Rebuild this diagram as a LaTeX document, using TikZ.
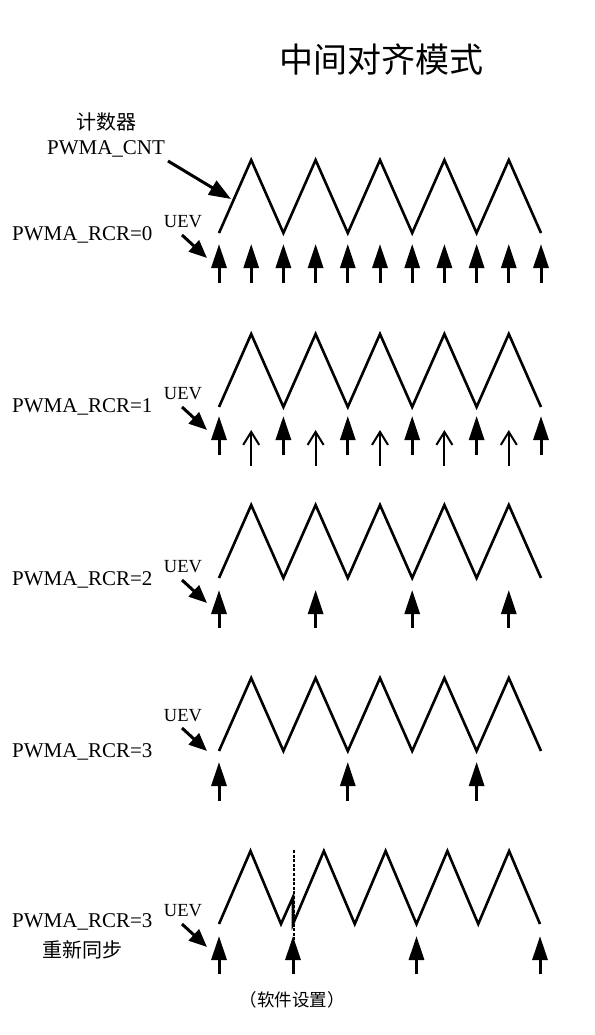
\documentclass[tikz,border=0pt]{standalone}
\usepackage{fontspec}
\setmainfont{Liberation Serif}
\newfontfamily\cjk{Noto Sans CJK SC}
\usetikzlibrary{arrows.meta,calc}
\begin{document}
\begin{tikzpicture}[x=1pt,y=-1pt,
  wave/.style={line width=2.6pt, line join=miter, line cap=butt},
  evt/.style={line width=3pt, -{Triangle[length=24pt,width=15pt]}},
  evtopen/.style={line width=2pt, -{Straight Barb[length=13pt,width=16pt,line width=2pt]}},
  point/.style={line width=3pt, -{Triangle[length=18pt,width=15pt]}},
  lbl/.style={inner sep=0pt, anchor=west, font=\fontsize{21}{21}\selectfont},
  uevlbl/.style={inner sep=0pt, font=\fontsize{18.5}{18.5}\selectfont},
  cjklbl/.style={inner sep=0pt, font=\cjk\fontsize{20}{20}\selectfont},
  dashseg/.style={fill=black}
]
\useasboundingbox (0,0) rectangle (594,1035);
\fill[white] (0,0) rectangle (594,1035);

% title
\node[inner sep=0pt, font=\cjk\fontsize{34}{34}\selectfont] (title) at (381,60) {中间对齐模式};

% ---------- row 1 : RCR=0 ----------
\node[cjklbl] (cntcn) at (106,122) {计数器};
\node[uevlbl, font=\fontsize{21}{21}\selectfont] (cnt) at (106,149) {PWMA\_CNT};
\coordinate (cntA) at (168,161);
\coordinate (cntB) at (231,199);
\draw[point, -{Triangle[length=22pt,width=16pt]}] (cntA) -- (cntB);
\node[lbl] (rcr0) at (12,235) {PWMA\_RCR=0};
\node[uevlbl] (uev0) at (183,222) {UEV};
\coordinate (u0a) at (182,235);
\coordinate (u0b) at (207,258);
\draw[point] (u0a) -- (u0b);
\draw[wave] (219,233) \foreach \k in {1,...,10}{ -- ({219+32.2*\k},{233-73*mod(\k,2)}) };
\foreach \k in {0,...,10}{
  \draw[evt] ({219+32.2*\k},283) -- ({219+32.2*\k},244);
}

% ---------- row 2 : RCR=1 ----------
\node[lbl] (rcr1) at (12,407) {PWMA\_RCR=1};
\node[uevlbl] (uev1) at (183,394) {UEV};
\coordinate (u1a) at (182,407);
\coordinate (u1b) at (207,430);
\draw[point] (u1a) -- (u1b);
\draw[wave] (219,407) \foreach \k in {1,...,10}{ -- ({219+32.2*\k},{407-73*mod(\k,2)}) };
\foreach \k in {0,2,...,10}{
  \draw[evt] ({219+32.2*\k},455) -- ({219+32.2*\k},416);
}
\foreach \k in {1,3,...,9}{
  \draw[evtopen] ({219+32.2*\k},466) -- ({219+32.2*\k},430);
}

% ---------- row 3 : RCR=2 ----------
\node[lbl] (rcr2) at (12,580) {PWMA\_RCR=2};
\node[uevlbl] (uev2) at (183,567) {UEV};
\coordinate (u2a) at (182,580);
\coordinate (u2b) at (207,603);
\draw[point] (u2a) -- (u2b);
\draw[wave] (219,578) \foreach \k in {1,...,10}{ -- ({219+32.2*\k},{578-73*mod(\k,2)}) };
\foreach \k in {0,3,6,9}{
  \draw[evt] ({219+32.2*\k},628) -- ({219+32.2*\k},590);
}

% ---------- row 4 : RCR=3 ----------
\node[lbl] (rcr3) at (12,752) {PWMA\_RCR=3};
\node[uevlbl] (uev3) at (183,716) {UEV};
\coordinate (u3a) at (182,728);
\coordinate (u3b) at (207,751);
\draw[point] (u3a) -- (u3b);
\draw[wave] (219,751) \foreach \k in {1,...,10}{ -- ({219+32.2*\k},{751-73*mod(\k,2)}) };
\foreach \k in {0,4,8}{
  \draw[evt] ({219+32.2*\k},801) -- ({219+32.2*\k},762);
}

% ---------- row 5 : RCR=3 resync ----------
\node[lbl] (rcr3b) at (12,922) {PWMA\_RCR=3};
\node[cjklbl] (resynclbl) at (82,950) {重新同步};
\node[uevlbl] (uev4) at (183,911) {UEV};
\coordinate (u4a) at (182,924);
\coordinate (u4b) at (207,947);
\draw[point] (u4a) -- (u4b);
\draw[wave] (219,924) -- (250.5,851) -- (281,924) -- (293,897) -- (293,924)
  \foreach \k in {1,...,8}{ -- ({293+30.875*\k},{924-73*mod(\k,2)}) };
\coordinate (dtop) at (294,850);
\coordinate (dbot) at (294,975);
\foreach \i in {0,...,26}{
  \path[dashseg] ($(dtop)+(-1.4,4.6*\i)$) rectangle ++(2.8,3);
}
\foreach \x in {219,293,416.5,540}{
  \draw[evt] (\x,974) -- (\x,936);
}
\node[inner sep=0pt, font=\cjk\fontsize{17.5}{17.5}\selectfont] (sw) at (292,1000) {（软件设置）};
\end{tikzpicture}
\end{document}
